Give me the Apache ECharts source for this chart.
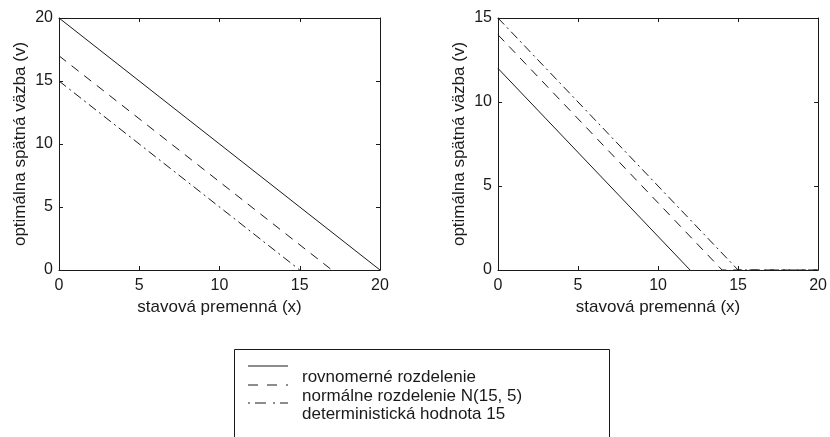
<!DOCTYPE html>
<html>
<head>
<meta charset="utf-8">
<script src="https://cdn.jsdelivr.net/npm/echarts@6/dist/echarts.min.js"></script>
<style>
  html, body { margin: 0; padding: 0; background: #fff; }
  #chart { width: 830px; height: 437px; }
</style>
</head>
<body>
<div id="chart"></div>
<script>
// názvy sérií (legenda)
const seriesNames = [
  "rovnomerné rozdelenie",
  "normálne rozdelenie N(15, 5)",
  "deterministická hodnota 15"
];
const xLabel = "stavová premenná (x)";
const yLabel = "optimálna spätná väzba (v)";

// ľavý graf
const leftUniform = [[0, 20], [20, 0]];
const leftNormal = [[0, 17], [17, 0]];
const leftDeterm = [[0, 15], [15, 0]];

// pravý graf
const rightUniform = [[0, 12], [12, 0]];
const rightNormal = [[0, 14], [14, 0], [20, 0]];
const rightDeterm = [[0, 15], [15, 0], [20, 0]];

const xTicks = { min: 0, max: 20, interval: 5 };
const leftYTicks = { min: 0, max: 20, interval: 5 };
const rightYTicks = { min: 0, max: 15, interval: 5 };

const font = "'Liberation Sans', Arial, sans-serif";
const ink = "#1a1a1a";
const lineTypes = ["solid", [9, 7], [9, 4, 2, 4]];

const chart = echarts.init(document.getElementById("chart"), null, { renderer: "canvas" });

// os s tickmi dovnútra, ako v MATLABe
function axis(kind, grid, ticks, position, withLabel, name) {
  const a = {
    type: "value",
    gridIndex: grid,
    position: position,
    min: ticks.min,
    max: ticks.max,
    interval: ticks.interval,
    splitLine: { show: false },
    axisLine: { show: true, onZero: false, lineStyle: { color: ink, width: 1 } },
    axisTick: { show: true, inside: true, length: 4, lineStyle: { color: ink } },
    axisLabel: {
      show: withLabel,
      color: ink,
      fontFamily: font,
      fontSize: 16,
      margin: kind === "x" ? 8 : 6
    }
  };
  if (name) {
    a.name = name;
    a.nameLocation = "middle";
    a.nameGap = kind === "x" ? 28 : 30;
    a.nameTextStyle = { color: ink, fontFamily: font, fontSize: 17 };
  }
  return a;
}

function lineSeries(data, i, xi, yi) {
  return {
    type: "line",
    name: seriesNames[i],
    xAxisIndex: xi,
    yAxisIndex: yi,
    data: data,
    symbol: "none",
    silent: true,
    animation: false,
    z: 1,
    lineStyle: { color: ink, width: 1, type: lineTypes[i] }
  };
}

// legenda ako v origináli (ikony sú trochu nad textom)
const legendX = 248, legendTextX = 302;
const legendIconY = [366, 385, 403];
const legendTextY = [377, 396, 414];
const legendGraphics = [
  {
    type: "rect",
    shape: { x: 234.5, y: 349.5, width: 375, height: 120 },
    style: { fill: "#fff", stroke: ink, lineWidth: 1 }
  }
];
seriesNames.forEach((n, i) => {
  legendGraphics.push({
    type: "line",
    shape: { x1: legendX, y1: legendIconY[i], x2: legendX + 40, y2: legendIconY[i] },
    style: {
      stroke: ink,
      lineWidth: 1,
      lineDash: i === 0 ? null : (i === 1 ? [10, 9] : [2, 5, 11, 7])
    }
  });
  legendGraphics.push({
    type: "text",
    x: legendTextX,
    y: legendTextY[i],
    style: {
      text: n,
      fill: ink,
      font: "17px " + font,
      verticalAlign: "middle"
    }
  });
});

const option = {
  backgroundColor: "#fff",
  animation: false,
  grid: [
    { left: 59, top: 18, width: 321, height: 252 },
    { left: 498, top: 18, width: 321, height: 252 }
  ],
  xAxis: [
    axis("x", 0, xTicks, "bottom", true, xLabel),
    axis("x", 0, xTicks, "top", false),
    axis("x", 1, xTicks, "bottom", true, xLabel),
    axis("x", 1, xTicks, "top", false)
  ],
  yAxis: [
    axis("y", 0, leftYTicks, "left", true, yLabel),
    axis("y", 0, leftYTicks, "right", false),
    axis("y", 1, rightYTicks, "left", true, yLabel),
    axis("y", 1, rightYTicks, "right", false)
  ],
  series: [
    lineSeries(leftUniform, 0, 0, 0),
    lineSeries(leftNormal, 1, 0, 0),
    lineSeries(leftDeterm, 2, 0, 0),
    lineSeries(rightUniform, 0, 2, 2),
    lineSeries(rightNormal, 1, 2, 2),
    lineSeries(rightDeterm, 2, 2, 2)
  ],
  graphic: legendGraphics
};

chart.setOption(option);
</script>
</body>
</html>
